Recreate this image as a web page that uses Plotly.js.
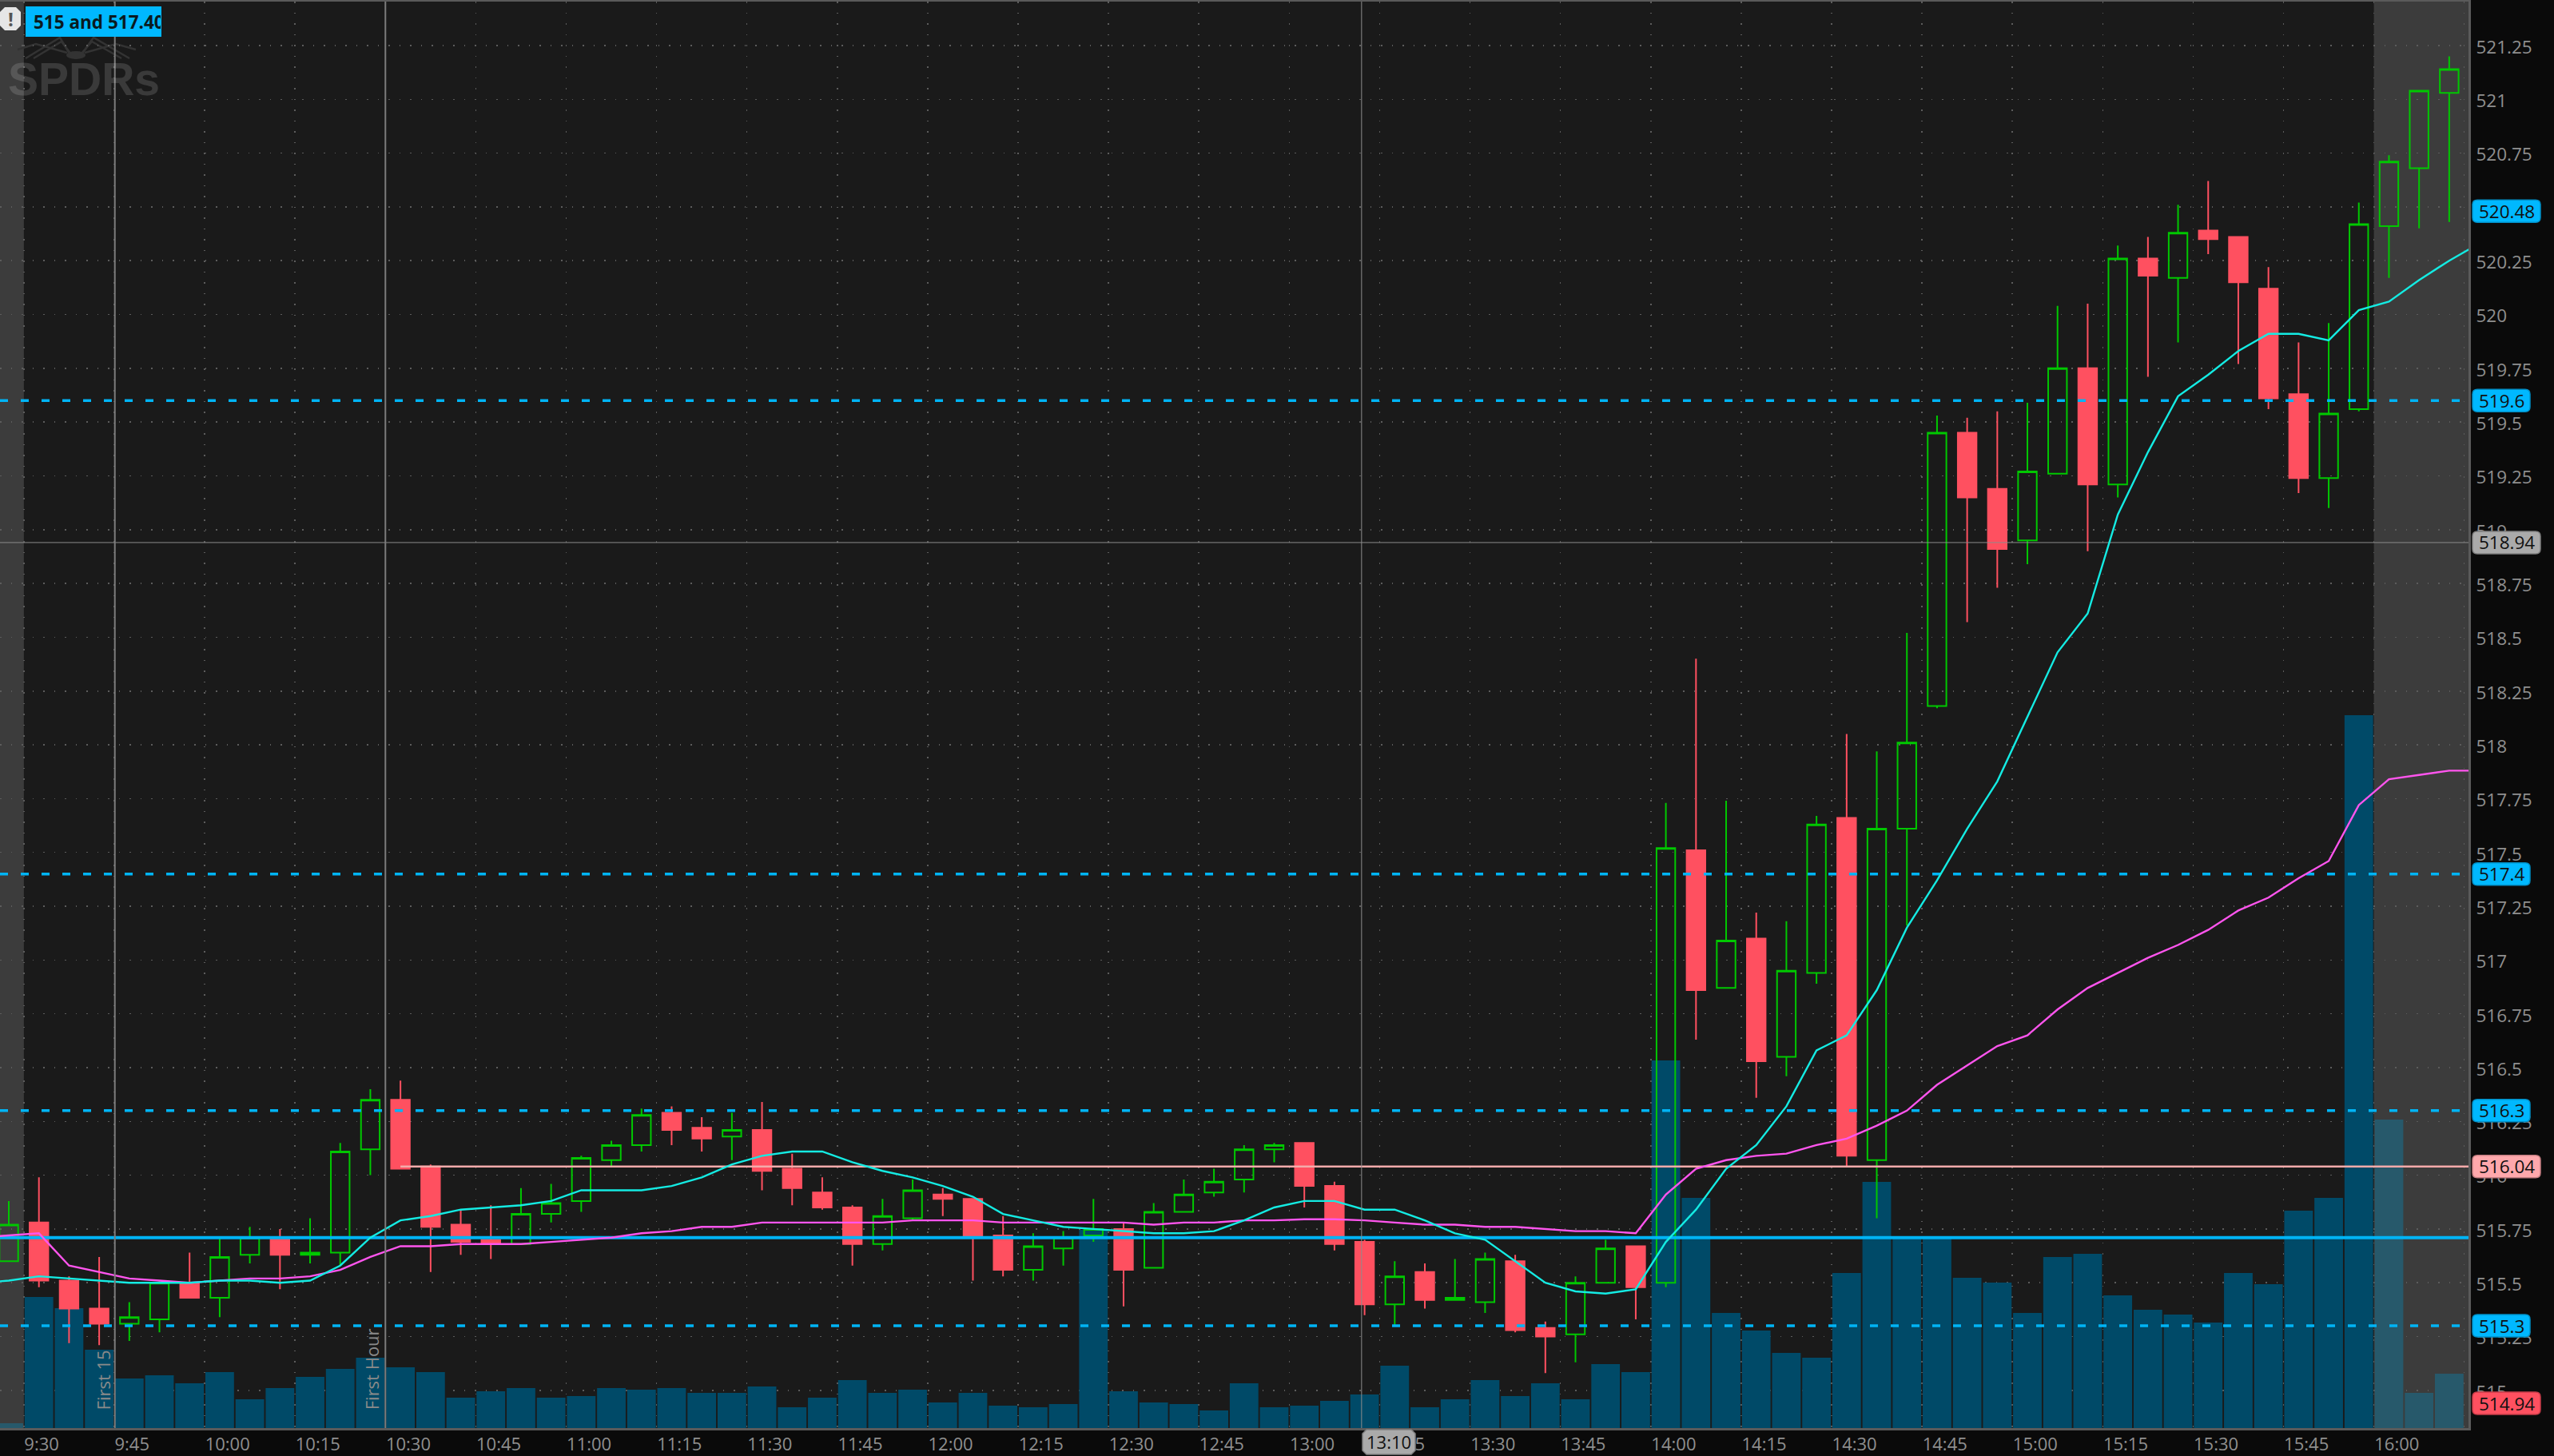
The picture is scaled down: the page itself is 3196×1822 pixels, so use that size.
<!DOCTYPE html>
<html><head><meta charset="utf-8">
<script src="https://cdn.plot.ly/plotly-3.0.1.min.js"></script>
<style>html,body{margin:0;padding:0;background:#0a0a0a}#c{width:3196px;height:1822px}</style>
</head><body><div id="c"></div>
<script>
const open_ = [515.60,515.78,515.51,515.38,515.31,515.33,515.50,515.43,515.63,515.71,515.63,515.64,516.12,516.35,516.04,515.77,515.70,515.68,515.82,515.88,516.07,516.14,516.29,516.22,516.18,516.21,516.03,515.92,515.85,515.68,515.80,515.91,515.89,515.72,515.56,515.66,515.72,515.75,515.57,515.83,515.92,515.98,516.12,516.15,515.95,515.69,515.40,515.55,515.42,515.41,515.60,515.29,515.26,515.50,515.67,515.50,517.51,516.87,517.10,516.55,516.94,517.66,516.07,517.61,518.18,519.45,519.19,518.95,519.26,519.75,519.21,520.26,520.17,520.39,520.36,520.12,519.63,519.24,519.56,520.41,520.68,521.03];
const high_ = [515.88,515.99,515.53,515.62,515.41,515.51,515.64,515.71,515.76,515.75,515.80,516.15,516.40,516.44,516.05,515.84,515.86,515.94,515.96,516.09,516.16,516.31,516.32,516.27,516.29,516.34,516.10,515.99,515.86,515.89,515.98,515.94,515.89,515.81,515.73,515.74,515.89,515.78,515.87,515.98,516.03,516.14,516.15,516.15,515.97,515.70,515.60,515.59,515.61,515.64,515.63,515.32,515.53,515.70,515.67,517.73,518.40,517.74,517.22,517.18,517.67,518.05,517.97,518.52,519.53,519.52,519.55,519.59,520.04,520.05,520.32,520.36,520.51,520.62,520.36,520.22,519.87,519.96,520.52,520.74,521.04,521.20];
const low_ = [515.60,515.48,515.22,515.21,515.23,515.27,515.43,515.34,515.59,515.47,515.59,515.58,516.00,516.03,515.55,515.63,515.61,515.68,515.78,515.83,516.04,516.11,516.14,516.11,516.07,515.93,515.86,515.84,515.58,515.65,515.79,515.81,515.51,515.53,515.51,515.58,515.69,515.39,515.57,515.83,515.90,515.92,516.06,515.85,515.65,515.35,515.30,515.38,515.42,515.36,515.27,515.08,515.13,515.50,515.33,515.48,516.63,516.87,516.36,516.46,516.89,516.04,515.80,517.16,518.17,518.57,518.73,518.84,519.26,518.90,519.15,519.71,519.87,520.28,519.77,519.56,519.17,519.10,519.55,520.17,520.40,520.43];
const close_ = [515.77,515.51,515.38,515.31,515.34,515.50,515.43,515.62,515.71,515.63,515.64,516.11,516.35,516.03,515.76,515.69,515.68,515.82,515.87,516.08,516.14,516.28,516.21,516.17,516.21,516.02,515.94,515.85,515.68,515.81,515.93,515.89,515.72,515.56,515.67,515.71,515.75,515.56,515.83,515.91,515.97,516.12,516.14,515.95,515.68,515.40,515.53,515.42,515.43,515.61,515.28,515.25,515.50,515.66,515.48,517.52,516.86,517.09,516.53,516.95,517.63,516.09,517.61,518.01,519.45,519.15,518.91,519.27,519.75,519.21,520.26,520.18,520.38,520.35,520.15,519.61,519.24,519.54,520.42,520.71,521.04,521.14];
const volume = [6,164,150,98,62,66,56,70,36,50,64,74,88,76,70,38,46,50,38,40,50,48,50,44,44,52,26,38,60,44,48,32,44,28,26,30,248,46,32,30,22,56,26,28,34,42,78,26,36,60,40,56,36,80,70,460,288,144,122,94,88,194,308,238,238,188,182,144,214,218,166,148,142,132,194,180,272,288,892,386,44,68];
// moving averages: first value lies one bar before the first candle, last one bar after the last
const fastMA = [515.50,515.51,515.53,515.52,515.51,515.50,515.50,515.50,515.51,515.51,515.50,515.51,515.58,515.71,515.79,515.81,515.84,515.85,515.86,515.88,515.93,515.93,515.93,515.95,515.99,516.05,516.09,516.11,516.11,516.06,516.02,515.99,515.95,515.90,515.82,515.79,515.76,515.75,515.74,515.73,515.73,515.74,515.79,515.85,515.88,515.88,515.84,515.84,515.79,515.73,515.70,515.60,515.50,515.46,515.45,515.47,515.69,515.84,516.03,516.14,516.32,516.58,516.65,516.86,517.15,517.37,517.61,517.83,518.13,518.43,518.61,519.07,519.36,519.62,519.72,519.83,519.91,519.91,519.88,520.02,520.06,520.16,520.25,520.33];
const slowMA = [515.71,515.72,515.73,515.58,515.55,515.52,515.51,515.50,515.51,515.52,515.52,515.53,515.56,515.62,515.67,515.67,515.68,515.68,515.68,515.69,515.70,515.71,515.73,515.74,515.76,515.76,515.78,515.78,515.78,515.78,515.78,515.79,515.79,515.79,515.78,515.78,515.78,515.78,515.78,515.77,515.78,515.78,515.79,515.79,515.795,515.795,515.79,515.78,515.77,515.77,515.76,515.76,515.75,515.74,515.74,515.73,515.91,516.03,516.07,516.09,516.10,516.14,516.17,516.23,516.30,516.42,516.51,516.60,516.65,516.77,516.87,516.94,517.01,517.07,517.14,517.23,517.29,517.38,517.46,517.72,517.84,517.86,517.88,517.88];
const timeLabels = ['9:30','9:45','10:00','10:15','10:30','10:45','11:00','11:15','11:30','11:45','12:00','12:15','12:30','12:45','13:00','13:15','13:30','13:45','14:00','14:15','14:30','14:45','15:00','15:15','15:30','15:45','16:00'];
const priceTicks = [515,515.25,515.5,515.75,516,516.25,516.5,516.75,517,517.25,517.5,517.75,518,518.25,518.5,518.75,519,519.25,519.5,519.75,520,520.25,520.5,520.75,521,521.25];
const priceTickText = ['515','515.25','515.5','515.75','516','516.25','516.5','516.75','517','517.25','517.5','517.75','518','518.25','518.5','518.75','519','519.25','519.5','519.75','520','520.25','520.5','520.75','521','521.25'];
const dashedLevels = [519.6,517.4,516.3,515.3];
const solidLevel = 515.71;
const pinkLevel = 516.04;
const crossPrice = 518.94;
const priceTags = [
 {v:520.48,t:'520.48',c:'#00b8ff',e:'#0090c8'},
 {v:519.6,t:'519.6',c:'#00b8ff',e:'#0090c8'},
 {v:518.94,t:'518.94',c:'#aaaaaa',e:'#808080'},
 {v:517.4,t:'517.4',c:'#00b8ff',e:'#0090c8'},
 {v:516.3,t:'516.3',c:'#00b8ff',e:'#0090c8'},
 {v:516.04,t:'516.04',c:'#ffa8ac',e:'#c88084'},
 {v:515.3,t:'515.3',c:'#00b8ff',e:'#0090c8'},
 {v:514.94,t:'514.94',c:'#ff5060',e:'#c83c48'}
];

const W=3196,H=1822,L=0,R=3089,T=2,B=1787;
const xMin=-0.292,xMax=81.64;
const idx = open_.map((_,i)=>i);
const maX = fastMA.map((_,i)=>i-1);
const FONT='"Open Sans", sans-serif';
const px=x=>x/R, py=y=>(B-y)/(B-T);
const GRAY='#8f8f8f', BLUE='#00b4f5';
const barColors = idx.map(i=>(i<1||i>=79)?'#27596b':'#004a68');

const lineTrace=(x,y,color,width,dash)=>({type:'scatter',mode:'lines',x,y,yaxis:'y2',hoverinfo:'skip',line:{color,width,dash:dash||'solid'}});
const data=[
 {type:'bar',x:idx,y:volume,yaxis:'y',width:0.95,marker:{color:barColors,line:{width:0}},hoverinfo:'skip'},
 {type:'candlestick',x:idx,open:open_,high:high_,low:low_,close:close_,yaxis:'y2',hoverinfo:'skip',
  increasing:{line:{color:'#00c800',width:2},fillcolor:'rgba(0,0,0,0)'},
  decreasing:{line:{color:'#ff5060',width:2},fillcolor:'#ff5060'}},
 ...dashedLevels.map(v=>lineTrace([xMin,xMax],[v,v],BLUE,3.5,'10px,16px')),
 lineTrace([xMin,xMax],[solidLevel,solidLevel],BLUE,4),
 lineTrace([13,xMax],[pinkLevel,pinkLevel],'#f4aaaa',2.5),
 lineTrace([xMin,xMax],[crossPrice,crossPrice],'#8c8c8c',1),
 lineTrace(maX,slowMA,'#ff55ee',2.4),
 lineTrace(maX,fastMA,'#14ebe3',2.4)
];

const rr=(w,h,r)=>{const t=h/2;return `M ${r} ${-t} L ${w-r} ${-t} Q ${w} ${-t} ${w} ${-t+r} L ${w} ${t-r} Q ${w} ${t} ${w-r} ${t} L ${r} ${t} Q 0 ${t} 0 ${t-r} L 0 ${-t+r} Q 0 ${-t} ${r} ${-t} Z`;};
const vline=(x,color,w)=>({type:'line',layer:'above',xref:'x',yref:'paper',x0:x,x1:x,y0:0,y1:1,line:{color,width:w}});
const pPath=pts=>'M '+pts.map(p=>px(p[0])+' '+py(p[1])).join(' L ');
const logoLeg=pts=>({type:'path',layer:'below',xref:'paper',yref:'paper',path:pPath(pts),line:{color:'#333333',width:2.5}});
const shapes=[
 {type:'rect',layer:'below',xref:'x',yref:'paper',x0:xMin,x1:0.5,y0:0,y1:1,fillcolor:'#3c3c3c',line:{width:0}},
 {type:'rect',layer:'below',xref:'x',yref:'paper',x0:78.5,x1:xMax,y0:0,y1:1,fillcolor:'#3c3c3c',line:{width:0}},
 logoLeg([[87,67],[75,47],[32,73]]),logoLeg([[89,68],[77,52],[42,73]]),logoLeg([[84,66],[45,55],[22,62]]),
 logoLeg([[103,67],[117,47],[162,73]]),logoLeg([[101,68],[115,52],[152,73]]),logoLeg([[106,66],[145,55],[170,62]]),
 {type:'circle',layer:'below',xref:'paper',yref:'paper',x0:px(83),x1:px(107),y0:py(74),y1:py(64),fillcolor:'#333333',line:{width:0}},
 vline(3.52,'#7c7c7c',2),vline(12.5,'#7c7c7c',2),vline(44.9,'#8c8c8c',1),
 // alert octagon
 {type:'path',layer:'above',xref:'paper',yref:'paper',fillcolor:'#e6e6e6',line:{width:0},
  path:pPath([[6,9],[20,9],[26,15],[26,32],[20,38],[6,38],[0,32],[0,15]])+' Z'},
 // alert tag
 {type:'rect',layer:'above',xref:'paper',yref:'paper',x0:px(32),x1:px(202),y0:py(46),y1:py(8),fillcolor:'#00b8ff',line:{width:0}},
 // time tag
 {type:'path',layer:'above',xref:'paper',yref:'paper',fillcolor:'#aaaaaa',line:{color:'#808080',width:1.5},
  path:pPath([[1710,1789],[1766,1789],[1771,1794],[1771,1815],[1766,1820],[1710,1820],[1705,1815],[1705,1794]])+' Z'},
 ...priceTags.map(g=>({type:'path',layer:'above',xref:'paper',yref:'y2',xsizemode:'pixel',ysizemode:'pixel',
   xanchor:px(3094),yanchor:g.v,path:rr(g.t.length>5?85:(g.t.length>4?72:60),28,6),fillcolor:g.c,line:{color:g.e,width:1.5}}))
];

const annotations=[
 {xref:'paper',yref:'paper',x:px(41),y:py(9),xanchor:'left',yanchor:'top',text:'<b>515 and 517.40</b>',showarrow:false,
  width:159,height:34,borderpad:0,align:'left',font:{family:FONT,size:22.5,color:'#0a1a20'}},
 {xref:'paper',yref:'paper',x:px(13),y:py(24),xanchor:'center',yanchor:'middle',text:'<b>!</b>',showarrow:false,font:{family:FONT,size:24,color:'#555555'}},
 {xref:'paper',yref:'paper',x:px(8),y:py(99),xanchor:'left',yanchor:'middle',text:'<b>SPDRs</b>',showarrow:false,font:{family:'"Liberation Sans", sans-serif',size:57,color:'rgba(255,255,255,0.14)'}},
 {xref:'x',yref:'paper',x:3.5,y:py(1766),xanchor:'right',yanchor:'bottom',xshift:3,text:'First 15',textangle:-90,showarrow:false,font:{family:FONT,size:22,color:'#8a8a8a'}},
 {xref:'x',yref:'paper',x:12.5,y:py(1766),xanchor:'right',yanchor:'bottom',xshift:0,text:'First Hour',textangle:-90,showarrow:false,font:{family:FONT,size:22,color:'#8a8a8a'}},
 {xref:'paper',yref:'paper',x:px(1738),y:py(1804),xanchor:'center',yanchor:'middle',text:'13:10',showarrow:false,font:{family:FONT,size:22,color:'#111111'}},
 ...priceTags.map(g=>({xref:'paper',yref:'y2',x:px(3100),y:g.v,xanchor:'left',yanchor:'middle',text:g.t,showarrow:false,font:{family:FONT,size:22.5,color:'#101010'}}))
];

const layout={
 width:W,height:H,margin:{l:L,r:W-R,t:T,b:H-B,pad:0},paper_bgcolor:'#0a0a0a',plot_bgcolor:'#1a1a1a',showlegend:false,boxgap:0.38,boxgroupgap:0,barmode:'overlay',
 font:{family:FONT,color:GRAY,size:22},
 xaxis:{type:'linear',range:[xMin,xMax],showgrid:false,zeroline:false,rangeslider:{visible:false},
  tickmode:'array',tickvals:timeLabels.map((t,i)=>1+3*i+(t.length>4?0.26:0.09)),ticktext:timeLabels,ticks:'',
  tickfont:{family:FONT,size:22,color:GRAY},showline:true,linecolor:'#5a5a5a',linewidth:3,mirror:true,ticklabelstandoff:-1,
  minor:{tick0:0.5,dtick:3,showgrid:true,gridcolor:'#5c5c5c',gridwidth:1.5,griddash:'1.5px,12px',ticks:''}},
 yaxis:{range:[0,B-T],visible:false,fixedrange:true,showgrid:false,zeroline:false},
 yaxis2:{overlaying:'y',side:'right',range:[514.825,521.454],tickmode:'array',tickvals:priceTicks,ticktext:priceTickText,
  ticks:'',showgrid:true,gridcolor:'#5c5c5c',gridwidth:1.5,griddash:'1.5px,12px',zeroline:false,showline:true,linecolor:'#5a5a5a',linewidth:3,
  tickfont:{family:FONT,size:22.5,color:GRAY},ticklabelstandoff:2,ticklabelshift:2},
 shapes,annotations
};
Plotly.newPlot('c',data,layout,{displayModeBar:false,staticPlot:true});
</script></body></html>
